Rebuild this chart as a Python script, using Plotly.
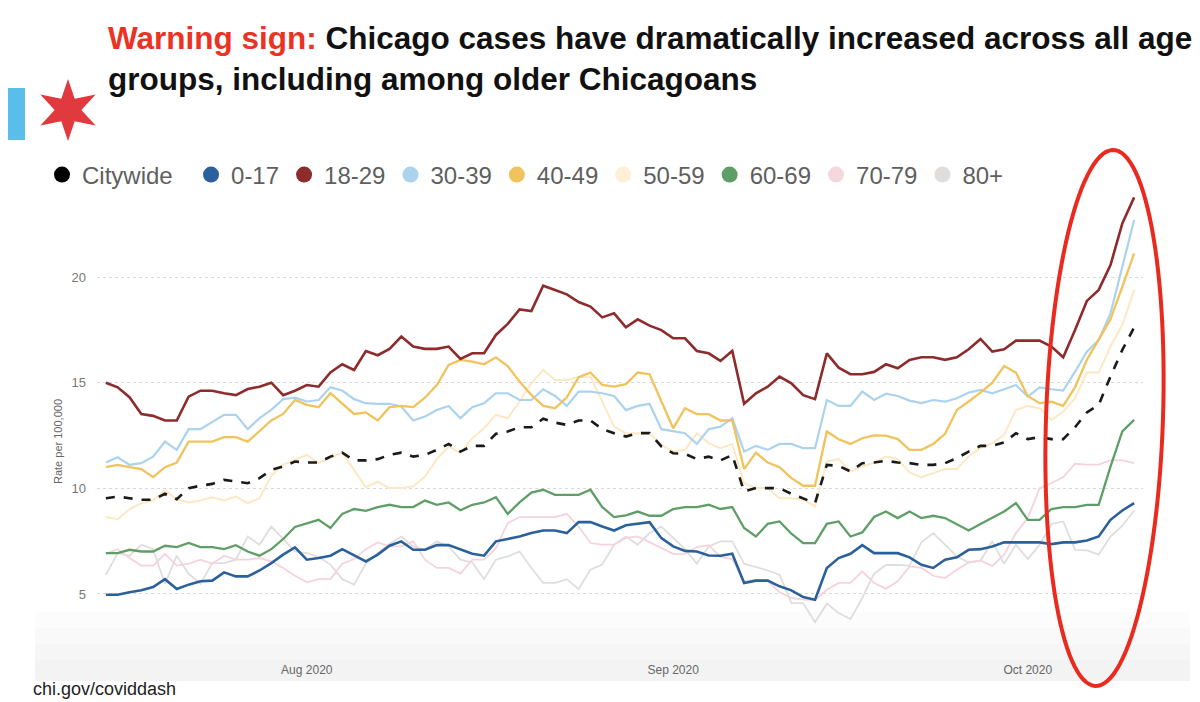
import numpy as np
import pandas as pd
import plotly.graph_objects as go

# ---------------- data ----------------
dates = pd.date_range("2020-07-15", "2020-10-10", freq="D")

series_names = ["Citywide", "0-17", "18-29", "30-39", "40-49", "50-59", "60-69", "70-79", "80+"]

citywide = [9.53, 9.61, 9.53, 9.46, 9.46, 9.74, 9.48, 10.01, 10.12, 10.21, 10.40, 10.32, 10.24, 10.48, 10.87, 11.03, 11.27, 11.22, 11.22, 11.50, 11.69, 11.32, 11.32,
            11.38, 11.58, 11.69, 11.50, 11.58, 11.82, 12.10, 11.74, 12.01, 12.01, 12.58, 12.69, 12.89, 12.89, 13.29, 13.11, 13.00, 13.21, 13.21, 12.80, 12.61, 12.45,
            12.61, 12.61, 11.98, 11.66, 11.63, 11.38, 11.50, 11.32, 11.58, 9.85, 10.01, 10.01, 10.01, 9.74, 9.53, 9.30, 11.11, 11.06, 10.80, 11.19, 11.22, 11.30,
            11.22, 11.19, 11.11, 11.11, 11.19, 11.43, 11.74, 12.01, 12.01, 12.17, 12.61, 12.33, 12.42, 12.33, 12.33, 12.89, 13.59, 13.95, 15.29, 16.55, 17.62]

age_0_17 = [4.96, 4.96, 5.08, 5.17, 5.33, 5.70, 5.23, 5.44, 5.60, 5.63, 6.02, 5.83, 5.83, 6.11, 6.46, 6.86, 7.20, 6.62, 6.70, 6.81, 7.12, 6.81, 6.54,
            6.86, 7.28, 7.49, 7.09, 7.09, 7.31, 7.31, 7.09, 6.90, 6.81, 7.49, 7.60, 7.72, 7.88, 8.00, 8.00, 7.88, 8.40, 8.40, 8.19, 8.00, 8.25,
            8.32, 8.40, 7.64, 7.25, 7.04, 7.01, 6.82, 6.81, 6.90, 5.52, 5.63, 5.63, 5.36, 5.17, 4.85, 4.73, 6.23, 6.70, 6.90, 7.31, 6.93, 6.93,
            6.93, 6.73, 6.38, 6.23, 6.62, 6.73, 7.09, 7.12, 7.25, 7.44, 7.44, 7.44, 7.44, 7.36, 7.44, 7.44, 7.53, 7.72, 8.51, 8.95, 9.30]

age_18_29 = [15.00, 14.78, 14.31, 13.52, 13.43, 13.21, 13.21, 14.34, 14.62, 14.62, 14.50, 14.41, 14.70, 14.81, 15.00, 14.41, 14.62, 14.89, 14.81, 15.48, 15.87, 15.60, 16.50,
             16.30, 16.60, 17.18, 16.71, 16.60, 16.60, 16.71, 16.12, 16.39, 16.39, 17.26, 17.78, 18.47, 18.39, 19.59, 19.39, 19.18, 18.82, 18.60, 18.09, 18.28, 17.62,
             18.00, 17.70, 17.49, 17.10, 17.10, 16.50, 16.39, 16.03, 16.50, 14.00, 14.50, 14.81, 15.29, 14.97, 14.41, 14.22, 16.39, 15.71, 15.40, 15.40, 15.51, 15.87,
             15.68, 16.08, 16.20, 16.20, 16.08, 16.20, 16.58, 17.07, 16.47, 16.58, 16.99, 16.99, 16.99, 16.71, 16.20, 17.49, 18.87, 19.39, 20.57, 22.54, 23.77]

age_30_39 = [11.22, 11.47, 11.11, 11.19, 11.50, 12.21, 11.82, 12.80, 12.80, 13.16, 13.48, 13.48, 12.80, 13.32, 13.71, 14.22, 14.29, 14.11, 14.18, 14.78, 14.63, 14.22, 14.03,
             14.00, 14.00, 13.87, 13.21, 13.40, 13.71, 13.90, 13.32, 13.84, 14.03, 14.50, 14.50, 14.18, 14.18, 14.69, 14.37, 13.90, 14.58, 14.58, 14.50, 14.37, 13.70,
             13.90, 14.00, 12.80, 12.69, 12.61, 12.10, 12.80, 12.92, 13.32, 11.74, 12.01, 11.82, 12.10, 12.10, 11.90, 11.90, 14.18, 13.90, 13.90, 14.58, 14.18, 14.48,
             14.37, 14.15, 14.03, 14.18, 14.10, 14.26, 14.53, 14.66, 14.50, 14.69, 14.89, 14.34, 14.78, 14.69, 14.63, 15.52, 16.47, 17.02, 18.28, 20.49, 22.70]

age_40_49 = [11.00, 11.11, 11.00, 10.91, 10.53, 11.00, 11.22, 12.21, 12.21, 12.21, 12.42, 12.42, 12.21, 12.73, 13.21, 13.52, 14.18, 13.95, 13.84, 14.50, 14.00, 13.52, 13.59,
             13.21, 13.84, 13.90, 13.84, 14.29, 14.89, 15.84, 16.08, 16.00, 15.87, 16.20, 15.79, 15.05, 14.42, 13.90, 13.79, 14.31, 15.26, 15.48, 14.89, 14.81, 14.93,
             15.48, 15.40, 14.11, 12.84, 13.79, 13.51, 13.51, 13.21, 13.21, 10.91, 11.69, 11.22, 11.00, 10.48, 10.12, 10.12, 12.69, 12.32, 12.10, 12.37, 12.50, 12.49,
             12.33, 11.82, 11.82, 12.10, 12.58, 13.71, 14.11, 14.53, 15.00, 15.79, 15.48, 14.37, 14.03, 14.10, 13.90, 14.78, 16.08, 17.05, 18.00, 19.54, 21.12]

age_50_59 = [8.64, 8.54, 9.02, 9.30, 9.42, 9.90, 9.48, 9.33, 9.42, 9.58, 9.42, 9.61, 9.30, 9.53, 10.59, 11.11, 11.35, 11.58, 11.19, 11.43, 11.69, 10.87, 10.05,
             10.32, 10.01, 10.01, 10.09, 10.56, 11.38, 11.98, 11.66, 12.37, 12.84, 13.48, 13.32, 14.11, 14.97, 15.60, 15.13, 15.13, 15.26, 15.29, 14.11, 12.92, 12.60,
             12.61, 12.61, 12.06, 11.74, 11.82, 12.61, 12.14, 11.90, 12.10, 10.24, 10.01, 10.01, 9.53, 9.53, 9.46, 9.14, 11.27, 11.38, 10.80, 11.03, 11.22, 11.50,
             11.38, 10.75, 10.53, 10.72, 10.91, 10.91, 11.51, 11.90, 12.14, 12.53, 13.71, 13.90, 13.79, 13.24, 13.63, 14.26, 15.48, 15.48, 16.71, 17.73, 19.39]

age_60_69 = [6.93, 6.93, 7.09, 7.01, 7.01, 7.28, 7.22, 7.41, 7.22, 7.22, 7.12, 7.31, 7.01, 6.81, 7.12, 7.60, 8.17, 8.35, 8.51, 8.12, 8.79, 9.02, 8.93,
             9.11, 9.22, 9.11, 9.11, 9.42, 9.22, 9.33, 8.96, 9.22, 9.33, 9.58, 8.79, 9.33, 9.80, 9.93, 9.69, 9.69, 9.69, 9.93, 9.11, 8.64, 8.72,
             8.90, 8.70, 8.70, 9.02, 9.11, 9.11, 9.22, 9.02, 9.11, 8.12, 7.72, 8.32, 8.43, 7.85, 7.41, 7.41, 8.32, 8.43, 7.72, 7.91, 8.64, 8.90,
             8.59, 8.90, 8.59, 8.70, 8.59, 8.31, 8.00, 8.31, 8.59, 8.90, 9.30, 8.51, 8.51, 9.02, 9.11, 9.11, 9.22, 9.22, 11.03, 12.69, 13.24]

age_70_79 = [6.90, 7.12, 6.70, 6.34, 6.34, 6.90, 6.34, 6.43, 6.62, 6.43, 6.81, 6.62, 6.62, 6.70, 6.54, 6.23, 5.86, 5.55, 5.70, 5.70, 6.43, 6.65, 7.12,
             7.44, 7.25, 7.25, 7.49, 6.62, 6.23, 6.23, 5.96, 6.62, 6.62, 7.17, 8.35, 8.64, 8.64, 8.64, 8.64, 8.79, 8.19, 7.41, 7.33, 7.33, 7.65,
             7.72, 7.44, 7.17, 6.90, 6.90, 7.22, 7.31, 6.75, 6.65, 5.60, 5.68, 5.63, 5.08, 4.81, 4.73, 4.70, 5.20, 5.52, 5.52, 6.07, 5.52, 5.25,
             5.60, 6.30, 6.23, 5.86, 5.75, 6.15, 6.49, 6.58, 6.33, 6.86, 7.88, 8.59, 10.01, 10.24, 10.53, 11.16, 11.12, 11.12, 11.32, 11.32, 11.19]

age_80_plus = [5.91, 6.93, 6.81, 7.33, 7.12, 5.48, 6.81, 5.96, 5.48, 6.46, 6.46, 6.62, 7.72, 7.33, 8.19, 7.60, 7.01, 6.93, 6.75, 6.39, 5.70, 5.44, 6.44,
               6.93, 7.38, 7.72, 7.25, 7.09, 7.49, 7.25, 6.62, 6.49, 5.70, 6.62, 6.78, 7.01, 6.23, 5.52, 5.52, 5.70, 5.23, 6.15, 6.39, 7.33, 7.72,
               7.33, 7.88, 8.19, 7.64, 7.12, 6.43, 7.25, 7.49, 7.49, 6.43, 6.27, 6.11, 5.91, 4.57, 4.57, 3.66, 4.54, 4.10, 3.81, 4.81, 5.96, 6.37,
               6.38, 6.34, 7.44, 7.88, 7.33, 6.78, 6.49, 6.58, 7.49, 6.43, 7.33, 6.65, 7.33, 8.31, 8.43, 7.09, 7.06, 6.86, 7.72, 8.23, 8.95]

y_ticks = [5, 10, 15, 20]

# ---------------- styles ----------------
values = {
    "Citywide": citywide, "0-17": age_0_17, "18-29": age_18_29, "30-39": age_30_39,
    "40-49": age_40_49, "50-59": age_50_59, "60-69": age_60_69, "70-79": age_70_79, "80+": age_80_plus,
}
line_colors = {
    "Citywide": "#1a1a1a", "0-17": "#2b619b", "18-29": "#8e2b2c", "30-39": "#acd3ee",
    "40-49": "#f0c35c", "50-59": "#fde8c4", "60-69": "#5f9f67", "70-79": "#f5d3dc", "80+": "#dfdedc",
}
legend_colors = dict(line_colors)
legend_colors["Citywide"] = "#000000"
legend_colors["50-59"] = "#fdf0d6"
legend_colors["70-79"] = "#f5d8df"
line_widths = {
    "Citywide": 2.6, "0-17": 2.6, "18-29": 2.6, "30-39": 2.2, "40-49": 2.3,
    "50-59": 2.0, "60-69": 2.3, "70-79": 1.8, "80+": 1.8,
}
draw_order = ["80+", "70-79", "50-59", "30-39", "60-69", "40-49", "0-17", "18-29", "Citywide"]
legend_labels = {n: n for n in series_names}
legend_labels["Citywide"] = "Citywide\u00a0\u00a0"

# page offset (browser body margin)
OFF = 8
W, H = 1200, 702
PW, PH = 1046, 465
ML, MT = 97 - OFF, 190 - OFF
MR, MB = W - ML - PW, H - MT - PH


def px(x):
    return (x - OFF - ML) / PW


def py(y):
    return (MT + PH - (y - OFF)) / PH


fig = go.Figure()

for name in draw_order:
    fig.add_trace(go.Scatter(
        x=dates, y=values[name], mode="lines", name=name, showlegend=False,
        line=dict(color=line_colors[name], width=line_widths[name],
                  dash="dash" if name == "Citywide" else "solid"),
        hoverinfo="skip",
    ))

for name in series_names:
    fig.add_trace(go.Scatter(
        x=[None], y=[None], mode="markers", name=legend_labels[name],
        marker=dict(color=legend_colors[name], size=16, symbol="circle", line=dict(width=0)),
    ))

# ---------------- decorations ----------------
shapes = []
# soft gray footer band (gradient)
for yb in [612, 628, 644, 660]:
    shapes.append(dict(type="rect", xref="paper", yref="paper", layer="below",
                       x0=px(35), x1=px(1190), y0=py(681), y1=py(yb),
                       fillcolor="rgba(0,0,0,0.013)", line=dict(width=0)))
# Chicago flag blue bar
shapes.append(dict(type="rect", xref="paper", yref="paper",
                   x0=px(0), x1=px(25), y0=py(140), y1=py(88),
                   fillcolor="#5bbde9", line=dict(width=0)))
# six-pointed star
cx, cy, R, r = 68, 110, 31, 13
pts = []
for k in range(12):
    ang = np.pi / 2 + k * np.pi / 6
    rad = R if k % 2 == 0 else r
    pts.append((cx + rad * np.cos(ang) * 1.03, cy - rad * np.sin(ang)))
star_path = "M " + " L ".join(f"{px(a):.5f},{py(b):.5f}" for a, b in pts) + " Z"
shapes.append(dict(type="path", xref="paper", yref="paper", path=star_path,
                   fillcolor="#e0393e", line=dict(width=0)))
# red highlight ellipse
ecx, ecy, ea, eb, shear = 1104.5, 418, 58.5, 268, 0.032
ts = np.linspace(0, 2 * np.pi, 120)
ell = [(ecx + ea * np.cos(t) + shear * eb * np.sin(t), ecy - eb * np.sin(t)) for t in ts]
ell_path = "M " + " L ".join(f"{px(a):.5f},{py(b):.5f}" for a, b in ell) + " Z"
shapes.append(dict(type="path", xref="paper", yref="paper", path=ell_path,
                   line=dict(color="#ea2a1e", width=4)))

title_font = "Liberation Sans, Arial, sans-serif"
annotations = [
    dict(xref="paper", yref="paper", x=px(106), y=py(38), xanchor="left", yanchor="middle",
         text="<b><span style='color:#ea3323'>Warning sign:</span> Chicago cases have dramatically increased across all age</b>",
         showarrow=False, font=dict(family=title_font, size=31.5, color="#111111")),
    dict(xref="paper", yref="paper", x=px(106), y=py(79), xanchor="left", yanchor="middle",
         text="<b>groups, including among older Chicagoans</b>",
         showarrow=False, font=dict(family=title_font, size=31.5, color="#111111")),
    dict(xref="paper", yref="paper", x=px(31), y=py(689), xanchor="left", yanchor="middle",
         text="chi.gov/coviddash", showarrow=False,
         font=dict(family="Liberation Sans, Arial, sans-serif", size=18, color="#222222")),
    dict(xref="paper", yref="paper", x=px(58), y=py(442), xanchor="center", yanchor="middle",
         text="Rate per 100,000", textangle=-90, showarrow=False,
         font=dict(family="Liberation Sans, Arial, sans-serif", size=11, color="#666666")),
]

fig.update_layout(
    width=W, height=H,
    margin=dict(l=ML, r=MR, t=MT, b=MB, pad=0),
    paper_bgcolor="white", plot_bgcolor="rgba(0,0,0,0)",
    font=dict(family="Liberation Sans, Arial, sans-serif", color="#666666"),
    showlegend=True,
    legend=dict(orientation="h", x=px(42), y=py(175), xanchor="left", yanchor="middle",
                font=dict(size=24, color="#5f5f5f", family="Liberation Sans, Arial, sans-serif"),
                bgcolor="rgba(0,0,0,0)", itemclick=False, tracegroupgap=0),
    shapes=shapes,
    annotations=annotations,
    hovermode=False,
)

fig.update_xaxes(
    range=[dates[0] - pd.Timedelta(hours=18), dates[-1] + pd.Timedelta(hours=18)],
    tickformat="%b %Y", dtick="M1", tick0="2020-08-01",
    showgrid=False, zeroline=False, showline=False, ticks="",
    tickfont=dict(size=12, color="#666666"), ticklabelstandoff=6,
)
fig.update_yaxes(
    range=[2.11, 24.12], tickvals=y_ticks, ticktext=[str(v) for v in y_ticks],
    showgrid=True, gridcolor="#d9d9d9", griddash="dot", gridwidth=1,
    zeroline=False, showline=False, ticks="",
    tickfont=dict(size=13, color="#777777"), ticklabelstandoff=10,
)

fig.write_html("out.html")
